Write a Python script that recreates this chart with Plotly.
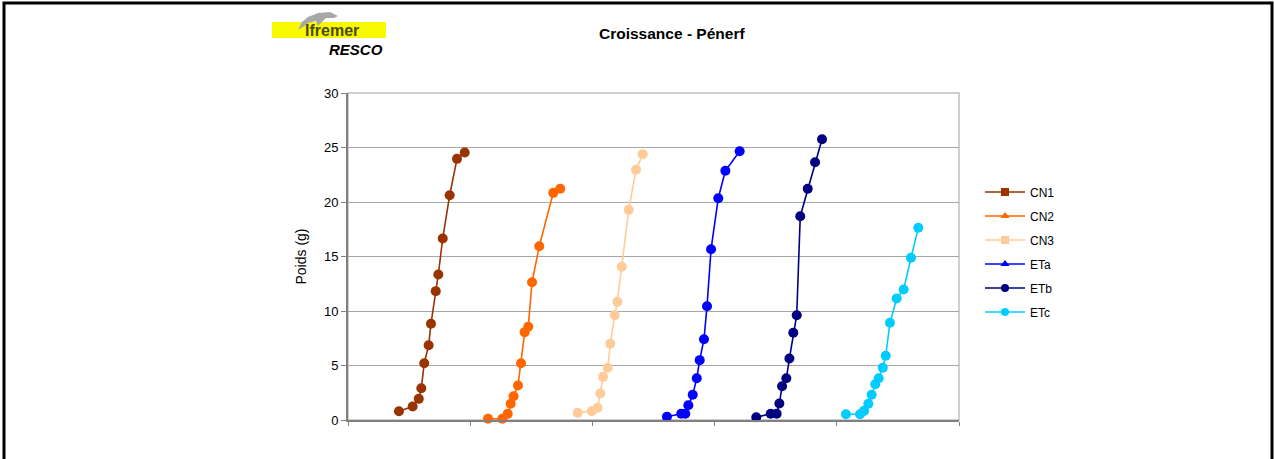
import plotly.graph_objects as go

# ---- data (x in axis units, y = Poids (g)) ----
cn1_x = [0.417, 0.529, 0.579, 0.600, 0.624, 0.660, 0.679, 0.718, 0.739, 0.775, 0.832, 0.892, 0.955]
cn1_y = [0.81, 1.24, 1.94, 2.92, 5.21, 6.86, 8.83, 11.82, 13.35, 16.65, 20.62, 23.96, 24.54]

cn2_x = [1.146, 1.263, 1.307, 1.331, 1.355, 1.391, 1.416, 1.446, 1.475, 1.506, 1.565, 1.680, 1.737]
cn2_y = [0.11, 0.11, 0.57, 1.49, 2.18, 3.17, 5.21, 8.06, 8.55, 12.64, 15.94, 20.84, 21.21]

cn3_x = [1.880, 1.994, 2.043, 2.065, 2.087, 2.125, 2.146, 2.183, 2.204, 2.240, 2.297, 2.357, 2.412]
cn3_y = [0.66, 0.81, 1.12, 2.43, 3.96, 4.79, 6.99, 9.61, 10.84, 14.06, 19.28, 22.95, 24.39]

eta_x = [2.610, 2.727, 2.760, 2.785, 2.821, 2.854, 2.878, 2.913, 2.938, 2.971, 3.030, 3.088, 3.205]
eta_y = [0.29, 0.57, 0.57, 1.36, 2.31, 3.83, 5.49, 7.41, 10.44, 15.67, 20.35, 22.86, 24.66]

etb_x = [3.341, 3.459, 3.508, 3.530, 3.552, 3.587, 3.612, 3.644, 3.672, 3.701, 3.762, 3.822, 3.879]
etb_y = [0.26, 0.57, 0.57, 1.51, 3.10, 3.83, 5.64, 8.00, 9.61, 18.70, 21.21, 23.65, 25.76]

etc_x = [4.075, 4.190, 4.223, 4.258, 4.285, 4.315, 4.343, 4.376, 4.400, 4.435, 4.490, 4.547, 4.607, 4.667]
etc_y = [0.53, 0.53, 0.84, 1.49, 2.31, 3.28, 3.83, 4.79, 5.89, 8.92, 11.15, 11.97, 14.88, 17.63]

series_names = ["CN1", "CN2", "CN3", "ETa", "ETb", "ETc"]
series_x = [cn1_x, cn2_x, cn3_x, eta_x, etb_x, etc_x]
series_y = [cn1_y, cn2_y, cn3_y, eta_y, etb_y, etc_y]
colors = ["#993300", "#FF6600", "#FFCC99", "#0000FF", "#000080", "#00CCFF"]
legend_symbols = ["square", "triangle-up", "square", "triangle-up", "circle", "circle"]

y_ticks = [0, 5, 10, 15, 20, 25, 30]

FONT = "Liberation Sans, Arial, sans-serif"

fig = go.Figure()
for name, xs, ys, c in zip(series_names, series_x, series_y, colors):
    fig.add_trace(go.Scatter(
        x=xs, y=ys, mode="lines+markers", name=name, showlegend=False,
        line=dict(color=c, width=1.6),
        marker=dict(color=c, size=10, symbol="circle", line=dict(width=0)),
        cliponaxis=False,
    ))
# legend entries (Excel legend symbols)
for i, (name, c, s) in enumerate(zip(series_names, colors, legend_symbols)):
    fig.add_trace(go.Scatter(
        x=[None], y=[None], mode="lines+markers", name=name, legendgroup=f"g{i}",
        line=dict(color=c, width=1.6),
        marker=dict(color=c, size=8, symbol=s, line=dict(width=0)),
    ))

L, R, T, B = 348, 315, 93, 39
W, H = 1274, 459
pw, ph = W - L - R, H - T - B

def px_x(p):
    return (p - L) / pw

def px_y(p):
    return (H - B - p) / ph

shapes = [
    # outer black frame
    dict(type="rect", xref="paper", yref="paper",
         x0=px_x(4), x1=px_x(1272), y0=px_y(3), y1=px_y(475),
         line=dict(color="black", width=3), fillcolor="rgba(0,0,0,0)", layer="below"),
    # plot area border
    dict(type="rect", xref="paper", yref="paper", x0=0, x1=1, y0=0, y1=1,
         line=dict(color="#C0C0C0", width=1.5), layer="below"),
    # logo yellow band
    dict(type="rect", xref="paper", yref="paper",
         x0=px_x(272), x1=px_x(386), y0=px_y(38), y1=px_y(22),
         fillcolor="#F8F800", line=dict(width=0), layer="above"),
]
# rough dolphin silhouette (gray)
pts = [(298, 30), (302, 22), (308, 17), (318, 13), (330, 12), (338, 16), (334, 18),
       (326, 18), (322, 22), (318, 26), (316, 21), (308, 23), (303, 27)]
path = "M " + " L ".join(f"{px_x(a):.4f},{px_y(b):.4f}" for a, b in pts) + " Z"
shapes.append(dict(type="path", xref="paper", yref="paper", path=path,
                   fillcolor="#A8A8A8", line=dict(width=0), layer="above"))

annotations = [
    dict(text="<b>Ifremer</b>", xref="paper", yref="paper", x=px_x(332), y=px_y(31),
         showarrow=False, font=dict(family="Liberation Sans Narrow, Arial Narrow, Liberation Sans", size=16, color="#4A4A10"),
         xanchor="center", yanchor="middle"),
    dict(text="<b><i>RESCO</i></b>", xref="paper", yref="paper", x=px_x(356), y=px_y(50),
         showarrow=False, font=dict(family=FONT, size=15, color="black"),
         xanchor="center", yanchor="middle"),
    dict(text="<b>Croissance - Pénerf</b>", xref="paper", yref="paper", x=px_x(672), y=px_y(33),
         showarrow=False, font=dict(family=FONT, size=15.5, color="black"),
         xanchor="center", yanchor="middle"),
]

fig.update_layout(
    width=W, height=H,
    margin=dict(l=L, r=R, t=T, b=B, autoexpand=False),
    paper_bgcolor="white", plot_bgcolor="white",
    font=dict(family=FONT, size=13, color="black"),
    shapes=shapes, annotations=annotations,
    showlegend=True,
    legend=dict(x=px_x(980), y=px_y(252), xanchor="left", yanchor="middle",
                font=dict(family=FONT, size=12, color="black"),
                tracegroupgap=5, bgcolor="rgba(0,0,0,0)", itemwidth=40),
    xaxis=dict(range=[0, 5], dtick=1, tick0=0, showticklabels=False, ticks="outside",
               ticklen=4, tickcolor="#808080", showgrid=False, zeroline=False,
               showline=True, linecolor="#808080", linewidth=2),
    yaxis=dict(range=[0, 30], tickvals=y_ticks, ticks="outside", ticklen=5,
               tickcolor="#808080", showgrid=True, gridcolor="#A6A6A6", gridwidth=1,
               zeroline=False, showline=True, linecolor="#808080", linewidth=2,
               title=dict(text="Poids (g)", font=dict(family=FONT, size=14), standoff=14),
               tickfont=dict(family=FONT, size=13)),
)

fig.write_html("out.html", config={"displayModeBar": False},
               post_script="document.body.style.margin='0';document.body.style.overflow='hidden';")
